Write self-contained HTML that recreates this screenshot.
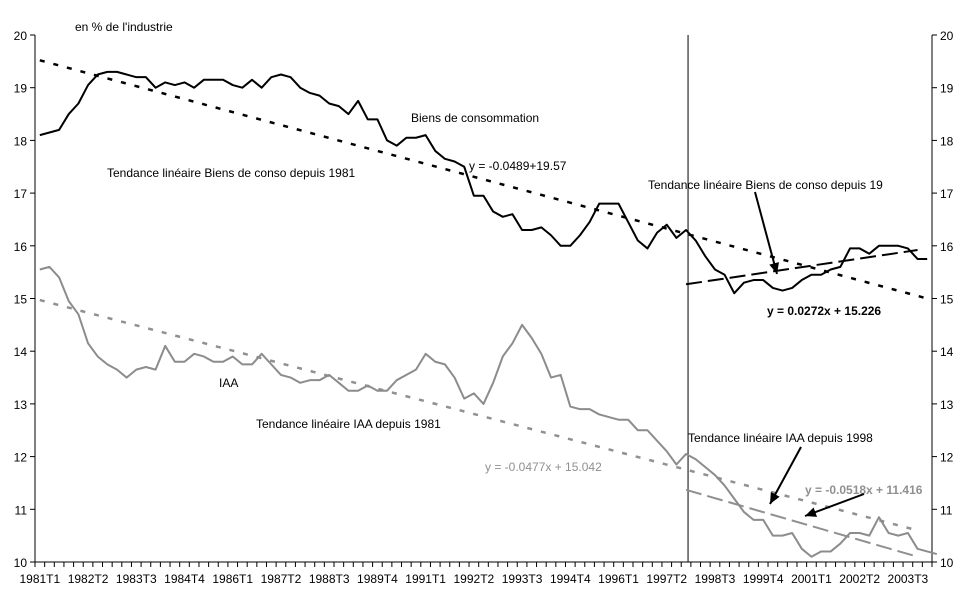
<!DOCTYPE html>
<html><head><meta charset="utf-8"><style>
body{margin:0;background:#fff;}
svg text{font-family:"Liberation Sans",sans-serif;font-size:12px;}
</style></head><body>
<svg id="chart" width="970" height="603">
<g id="axes"></g><g id="series"></g><g id="ann"></g>
</svg>
<script>
const biens=[18.1,18.15,18.2,18.5,18.7,19.05,19.25,19.3,19.3,19.25,19.2,19.2,19.0,19.1,19.05,19.1,19.0,19.15,19.15,19.15,19.05,19.0,19.15,19.0,19.2,19.25,19.2,19.0,18.9,18.85,18.7,18.65,18.5,18.75,18.4,18.4,18.0,17.9,18.05,18.05,18.1,17.8,17.65,17.6,17.5,16.95,16.95,16.65,16.55,16.6,16.3,16.3,16.35,16.2,16.0,16.0,16.2,16.45,16.8,16.8,16.8,16.45,16.1,15.95,16.25,16.4,16.15,16.3,16.1,15.8,15.55,15.45,15.1,15.3,15.35,15.35,15.2,15.15,15.2,15.35,15.45,15.45,15.55,15.6,15.95,15.95,15.85,16.0,16.0,16.0,15.95,15.75,15.75];
const iaa=[15.55,15.6,15.4,14.95,14.7,14.15,13.9,13.75,13.65,13.5,13.65,13.7,13.65,14.1,13.8,13.8,13.95,13.9,13.8,13.8,13.9,13.75,13.75,13.95,13.75,13.55,13.5,13.4,13.45,13.45,13.55,13.4,13.25,13.25,13.35,13.25,13.25,13.45,13.55,13.65,13.95,13.8,13.75,13.5,13.1,13.2,13.0,13.4,13.9,14.15,14.5,14.25,13.95,13.5,13.55,12.95,12.9,12.9,12.8,12.75,12.7,12.7,12.5,12.5,12.3,12.1,11.85,12.05,11.95,11.8,11.65,11.45,11.2,10.95,10.8,10.8,10.5,10.5,10.55,10.25,10.1,10.2,10.2,10.35,10.55,10.55,10.5,10.85,10.55,10.5,10.55,10.25,10.2,10.15];
const yTicks=[10,11,12,13,14,15,16,17,18,19,20];
const xLabels=["1981T1","1982T2","1983T3","1984T4","1986T1","1987T2","1988T3","1989T4","1991T1","1992T2","1993T3","1994T4","1996T1","1997T2","1998T3","1999T4","2001T1","2002T2","2003T3"];
const trendBiens81=[0,19.52,92,15.0];
const trendBiens98=[67,15.27,91,15.92];
const trendIaa81=[0,14.97,91,10.6];
const trendIaa98=[67,11.37,91,10.1];
const NQ=93, breakIdx=67;
const X0=35,X1=932,Y0=562,Y1=35;
const step=(X1-X0)/NQ;
const xs=i=>X0+step*(i+0.5);
const ys=v=>Y0-(v-10)/(20-10)*(Y0-Y1);
const NS="http://www.w3.org/2000/svg";
function mk(p,t,a){const e=document.createElementNS(NS,t);for(const k in a)e.setAttribute(k,a[k]);p.appendChild(e);return e;}
const ax=document.getElementById('axes'),se=document.getElementById('series'),an=document.getElementById('ann');
let e=mk(ax,'line',{x1:X0,y1:Y1,x2:X0,y2:Y0,stroke:'#000'});


e=mk(ax,'line',{x1:X1,y1:Y1,x2:X1,y2:Y0,stroke:'#000'});


e=mk(ax,'line',{x1:X0,y1:Y0,x2:X1,y2:Y0,stroke:'#000'});


yTicks.forEach(v=>{const y=ys(v);
mk(ax,'line',{x1:X0-5,y1:y,x2:X0,y2:y,stroke:'#000'});
mk(ax,'line',{x1:X1,y1:y,x2:X1+5,y2:y,stroke:'#000'});
let t=mk(ax,'text',{x:X0-8,y:y+5,'text-anchor':'end','font-size':'13'});t.textContent=v;


t=mk(ax,'text',{x:X1+8,y:y+5,'font-size':'13'});t.textContent=v;

});
for(let i=0;i<=NQ;i++){const x=X0+step*i;mk(ax,'line',{x1:x,y1:Y0,x2:x,y2:Y0+5,stroke:'#000'});}
xLabels.forEach((l,k)=>{const t=mk(ax,'text',{x:xs(k*5),y:Y0+21,'text-anchor':'middle'});t.textContent=l;

});
e=mk(ax,'line',{x1:xs(breakIdx)+2,y1:Y1,x2:xs(breakIdx)+2,y2:Y0,stroke:'#000'});


function trend(tr,col,dash,w,name){const l=mk(se,'line',{x1:xs(tr[0]),y1:ys(tr[1]),x2:xs(tr[2]),y2:ys(tr[3]),stroke:col,'stroke-width':w,'stroke-dasharray':dash});

}
trend(trendBiens81,'#000','5 9',2.5,'trend-biens-1981');
trend(trendIaa81,'#909090','5 9',2.5,'trend-iaa-1981');
trend(trendBiens98,'#000','16 6',2,'trend-biens-1998');
trend(trendIaa98,'#909090','16 6',2,'trend-iaa-1998');
function line(d,col,name){const p=mk(se,'polyline',{points:d.map((v,i)=>xs(i)+','+ys(v)).join(' '),fill:'none',stroke:col,'stroke-width':2,'stroke-linejoin':'round'});

}
line(biens,'#000','biens-conso-line');
line(iaa,'#8c8c8c','iaa-line');
function txt(x,y,s,o){const t=mk(an,'text',Object.assign({x:x,y:y},o||{}));t.textContent=s;

return t;}
txt(75,31,'en % de l\'industrie');
txt(411,122,'Biens de consommation');
txt(107,177,'Tendance linéaire Biens de conso depuis 1981');
txt(469,170,'y = -0.0489+19.57');
txt(648,189,'Tendance linéaire Biens de conso depuis 19');
txt(767,315,'y = 0.0272x + 15.226',{'font-weight':'bold'});
txt(219,387,'IAA');
txt(256,428,'Tendance linéaire IAA depuis 1981');
txt(485,471,'y = -0.0477x + 15.042',{fill:'#909090'});
txt(688,442,'Tendance linéaire IAA depuis 1998');
txt(805,494,'y = -0.0518x + 11.416',{fill:'#909090','font-weight':'bold'});
function arrow(x1,y1,x2,y2){mk(an,'line',{x1:x1,y1:y1,x2:x2,y2:y2,stroke:'#000','stroke-width':2});
const a=Math.atan2(y2-y1,x2-x1),L=11,W=5;
mk(an,'polygon',{points:`${x2},${y2} ${x2-L*Math.cos(a)+W*Math.sin(a)},${y2-L*Math.sin(a)-W*Math.cos(a)} ${x2-L*Math.cos(a)-W*Math.sin(a)},${y2-L*Math.sin(a)+W*Math.cos(a)}`,fill:'#000'});}
arrow(755,192,777,274);
arrow(801,447,770,504);
arrow(864,494,805,516);
</script>
</body></html>
